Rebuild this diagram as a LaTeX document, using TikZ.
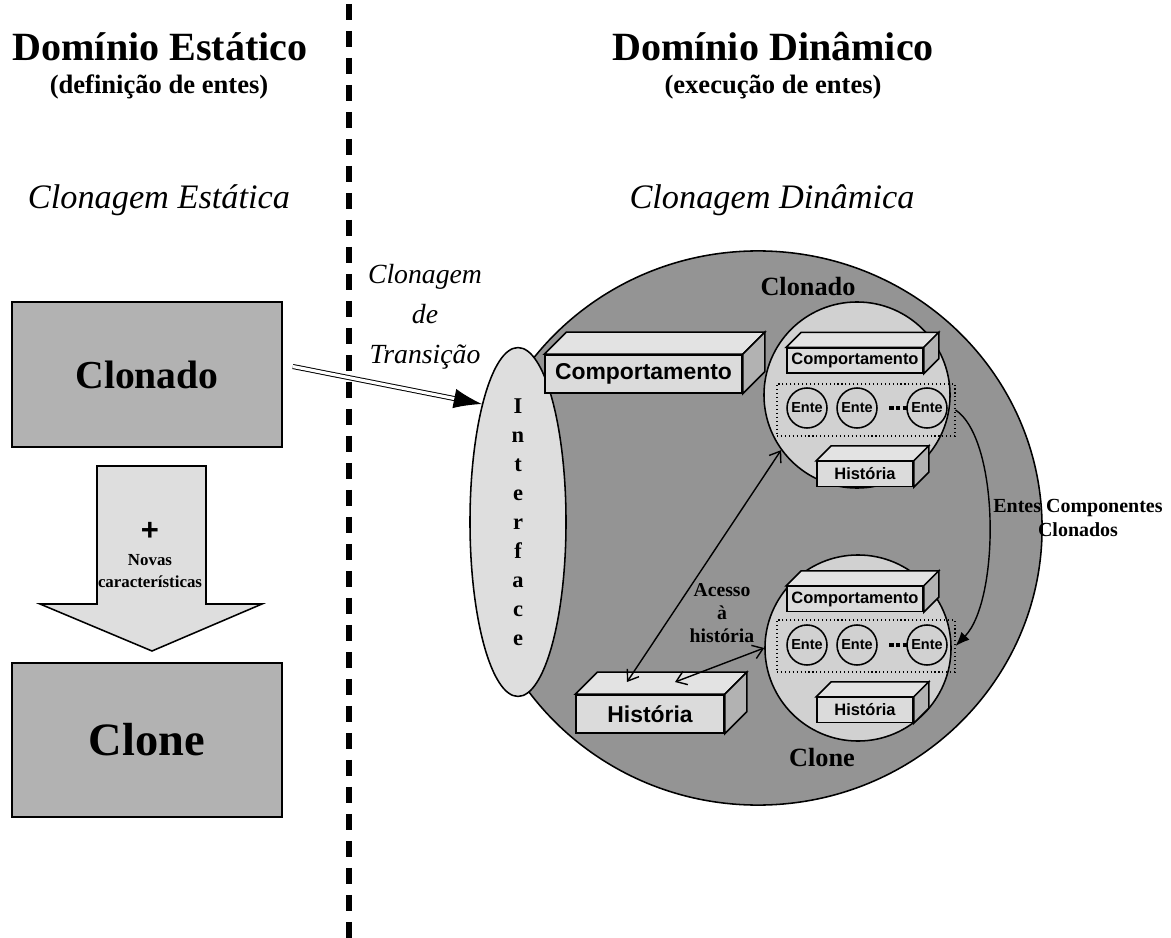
\documentclass[tikz,border=0pt]{standalone}
\usepackage{fontspec}
\setmainfont{Liberation Serif}
\newfontfamily\arialfont{Liberation Sans}
\usetikzlibrary{shapes.geometric,arrows.meta,calc,positioning}

\definecolor{cinzaFundo}{gray}{0.58}
\definecolor{cinzaCirc}{gray}{0.82}
\definecolor{cinzaFrente}{gray}{0.86}
\definecolor{cinzaTopo}{gray}{0.89}
\definecolor{cinzaLado}{gray}{0.70}
\definecolor{cinzaCaixa}{gray}{0.70}
\definecolor{cinzaSeta}{gray}{0.87}

% faces de cima e do lado de um bloco 3D
\newcommand\blocofaces[2]{%
  \draw[contorno, fill=cinzaTopo] (#1.north west) -- ++(#2,-#2) -- ($(#1.north east)+(#2,-#2)$) -- (#1.north east) -- cycle;
  \draw[contorno, fill=cinzaLado] (#1.north east) -- ++(#2,-#2) -- ($(#1.south east)+(#2,-#2)$) -- (#1.south east) -- cycle;}

\tikzset{
  contorno/.style={draw, line width=1.1pt},
  titulo/.style={font=\fontsize{28.5}{32}\selectfont\bfseries},
  subtitulo/.style={font=\fontsize{18.9}{22}\selectfont\bfseries},
  cursiva/.style={font=\fontsize{24.4}{28}\selectfont\itshape},
  caixa/.style={contorno, fill=cinzaCaixa, minimum width=6.75cm, inner sep=0pt},
  bloco/.style={contorno, fill=cinzaFrente, inner sep=0pt},
  blocogrande/.style={bloco, minimum height=0.95cm, font=\arialfont\bfseries\fontsize{16.3}{18}\selectfont},
  blocopequeno/.style={bloco, minimum height=0.62cm, font=\arialfont\bfseries\fontsize{11.7}{13}\selectfont},
  circulo/.style={circle, contorno, fill=cinzaCirc, minimum size=4.65cm, inner sep=0pt},
  ente/.style={circle, contorno, fill=cinzaCirc, minimum size=1cm, inner sep=0pt, font=\arialfont\bfseries\fontsize{10.3}{12}\selectfont},
  grupo/.style={draw, dotted, line width=0.8pt, minimum width=4.45cm, minimum height=1.3cm, inner sep=0pt},
  pontos/.style={line width=2.2pt, dash pattern=on 3.2pt off 1.6pt},
  rotulo/.style={font=\fontsize{18.7}{21}\selectfont\bfseries},
  nota/.style={align=center, font=\fontsize{14}{16.4}\selectfont\bfseries},
  seta/.style={line width=1pt, {Straight Barb[length=7pt,width=10pt]}-{Straight Barb[length=7pt,width=10pt]}},
}

\begin{document}
\begin{tikzpicture}[x=0.025cm, y=-0.025cm]
  \useasboundingbox (0,0) rectangle (1171,938);

  % divisoria
  \draw[line width=3.6pt, dash pattern=on 11.4pt off 7.8pt] (349,4) -- (349,938);

  % titulos
  \node[titulo] (tEst) at (160,47) {Domínio Estático};
  \node[subtitulo] (sEst) at (159,87) {(definição de entes)};
  \node[cursiva] (cEst) at (159,200) {Clonagem Estática};
  \node[titulo] (tDin) at (773,47) {Domínio Dinâmico};
  \node[subtitulo] (sDin) at (773,87) {(execução de entes)};
  \node[cursiva] (cDin) at (772,200) {Clonagem Dinâmica};

  % dominio estatico
  \node[caixa, minimum height=3.625cm, font=\fontsize{28.2}{32}\selectfont\bfseries] (clonado) at (147,374.5) {Clonado};
  \node[caixa, minimum height=3.85cm, font=\fontsize{33}{36}\selectfont\bfseries] (clone) at (147,740) {Clone};
  \draw[contorno, fill=cinzaSeta] (97,466) -- (206,466) -- (206,604) -- (262,604)
    -- (152,651) -- (40,604) -- (97,604) -- cycle;
  \node[font=\arialfont\bfseries\fontsize{22}{24}\selectfont] (mais) at (150,531) {+};
  \node[align=center, font=\fontsize{12}{15.6}\selectfont\bfseries] (novas) at (150,571) {Novas\\características};

  % dominio dinamico
  \node[ellipse, contorno, fill=cinzaFundo, minimum width=14.2cm, minimum height=13.85cm] (mundo) at (758,528) {};
  \node[ellipse, contorno, fill=cinzaSeta, minimum width=2.4cm, minimum height=6.9cm, inner sep=0pt,
    align=center, font=\fontsize{16}{20.6}\selectfont\bfseries] (interface) at (518,522)
    {I\\n\\t\\e\\r\\f\\a\\c\\e};
  \node[align=center, font=\fontsize{19.7}{28.5}\selectfont\itshape] (transicao) at (425,317)
    {Clonagem\\de\\Transição};

  \node[blocogrande, minimum width=4.925cm] (compG) at (643.5,374) {Comportamento};
  \blocofaces{compG}{22}
  \node[blocogrande, minimum width=3.7cm] (histG) at (650,714) {História};
  \blocofaces{histG}{22}

  % ente clonado
  \node[circulo] (circA) at (857,395) {};
  \node[rotulo] (lblA) at (808,287) {Clonado};
  \node[blocopequeno, minimum width=3.4cm] (compA) at (855,360.5) {Comportamento};
  \blocofaces{compA}{15}
  \node[grupo] (entesA) at (866,410) {};
  \node[ente] (a1) at (807,408) {Ente};
  \node[ente] (a2) at (857,408) {Ente};
  \node[ente] (a3) at (927,408) {Ente};
  \coordinate (pA) at (898,408);
  \draw[pontos] ($(pA)+(-9,0)$) -- ($(pA)+(9,0)$);
  \node[blocopequeno, minimum width=2.4cm] (histA) at (865,474) {História};
  \blocofaces{histA}{15}

  % ente clone
  \node[circulo] (circB) at (858,648) {};
  \node[rotulo] (lblB) at (822,758) {Clone};
  \node[blocopequeno, minimum width=3.4cm] (compB) at (855,599) {Comportamento};
  \blocofaces{compB}{15}
  \node[grupo] (entesB) at (866,646) {};
  \node[ente] (b1) at (807,645) {Ente};
  \node[ente] (b2) at (857,645) {Ente};
  \node[ente] (b3) at (927,645) {Ente};
  \coordinate (pB) at (898,645);
  \draw[pontos] ($(pB)+(-9,0)$) -- ($(pB)+(9,0)$);
  \node[blocopequeno, minimum width=2.4cm] (histB) at (865,710) {História};
  \blocofaces{histB}{15}

  % ligacoes
  \coordinate (saida) at ($(clonado.east)+(10,-8)$);
  \draw[line width=0.7pt, double distance=2.2pt, -{Latex[length=20pt,width=14pt]}] (saida) -- (interface.107);
  \coordinate (hTopoA) at (627,682);
  \coordinate (hTopoB) at (675,682);
  \draw[seta] (circA.216) -- (hTopoA);
  \draw[seta] (circB.west) -- (hTopoB);
  \node[nota] (acesso) at (722,613) {Acesso\\à\\história};
  \draw[line width=1pt, -{Latex[length=10pt,width=8pt]}] (entesA.east) .. controls (1000,440) and (1000,600) .. (entesB.east);
  \node[nota, font=\fontsize{14.2}{17}\selectfont\bfseries] (componentes) at (1078,518) {Entes Componentes\\Clonados};
\end{tikzpicture}
\end{document}
